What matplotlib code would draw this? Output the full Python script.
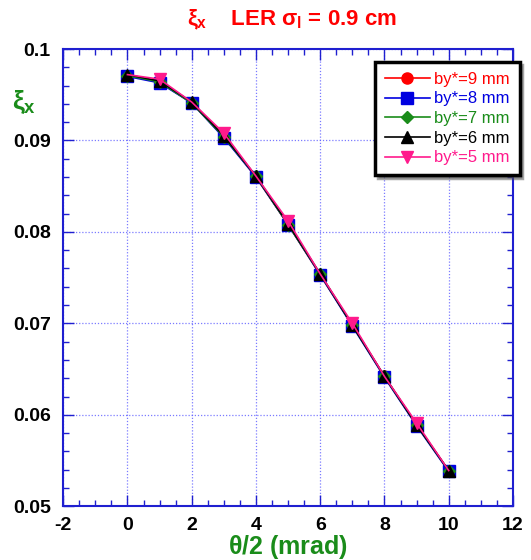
import numpy as np
import matplotlib.pyplot as plt
from matplotlib.ticker import MultipleLocator

dpi = 100

plt.rcParams['font.family'] = ['Liberation Sans', 'DejaVu Sans']
plt.rcParams['mathtext.fontset'] = 'custom'
plt.rcParams['mathtext.rm'] = 'Liberation Sans:bold'
plt.rcParams['mathtext.it'] = 'Liberation Sans:bold'
plt.rcParams['mathtext.bf'] = 'Liberation Sans:bold'
plt.rcParams['axes.unicode_minus'] = False

theta = [0, 1, 2, 3, 4, 5, 6, 7, 8, 9, 10]
xi_9 = [0.0971, 0.0964, 0.0941, 0.0904, 0.0860, 0.0808, 0.0753, 0.0698, 0.0642, 0.0589, 0.0539]
xi_8 = [0.0970, 0.0963, 0.0941, 0.0903, 0.0860, 0.0808, 0.0753, 0.0697, 0.0641, 0.0588, 0.0538]
xi_7 = [0.0971, 0.0964, 0.0941, 0.0904, 0.0861, 0.0808, 0.0754, 0.0698, 0.0642, 0.0589, 0.0539]
xi_6 = [0.0972, 0.0965, 0.0942, 0.0905, 0.0861, 0.0809, 0.0754, 0.0698, 0.0642, 0.0589, 0.0539]
xi_5 = [0.0972, 0.0967, 0.0942, 0.0908, 0.0861, 0.0812, 0.0754, 0.0700, 0.0642, 0.0591, 0.0539]

series = [
    (xi_9, 'red', 'o', 'by*=9 mm'),
    (xi_8, '#0000e0', 's', 'by*=8 mm'),
    (xi_7, '#1a8c1a', 'D', 'by*=7 mm'),
    (xi_6, 'black', '^', 'by*=6 mm'),
    (xi_5, '#ff1a8c', 'v', 'by*=5 mm'),
]

blue = '#1f1fd0'

fig = plt.figure(figsize=(531 / dpi, 560 / dpi), dpi=dpi)
ax = fig.add_axes([0.119, 0.096, 0.847, 0.8165])

for yy, col, mk, lab in series:
    # pink markers only stand out at the odd points
    every = slice(1, None, 2) if mk == 'v' else None
    ax.plot(theta, yy, color=col, marker=mk, ms=8 if mk != 'D' else 6.5, lw=1.2,
            label=lab, markevery=every)

ax.set_xlim(-2, 12)
ax.set_ylim(0.05, 0.1)
ax.xaxis.set_major_locator(MultipleLocator(2))
ax.xaxis.set_minor_locator(MultipleLocator(0.5))
ax.yaxis.set_major_locator(MultipleLocator(0.01))
ax.yaxis.set_minor_locator(MultipleLocator(0.002))
ax.yaxis.set_major_formatter(plt.FuncFormatter(lambda v, p: f'{v:g}'))

ax.grid(True, which='major', color='#5a5aff', ls=(0, (1, 1.5)), lw=0.9, alpha=0.8)
ax.tick_params(which='both', direction='in', top=True, right=True, colors=blue,
               labelcolor='black', labelsize=14)
ax.tick_params(axis='y', which='major', pad=9)
ax.tick_params(axis='x', which='major', pad=8)
ax.tick_params(which='major', length=8, width=1)
ax.tick_params(which='minor', length=4, width=1)
for lbl in ax.get_xticklabels() + ax.get_yticklabels():
    lbl.set_fontweight('bold')
for sp in ax.spines.values():
    sp.set_color(blue)
    sp.set_linewidth(1.5)

ax.set_xlabel(r'$\theta$/2 (mrad)', color='#1a8c1a', fontsize=18,
              fontweight='bold', labelpad=-1)
fig.text(0.022, 0.805, r'$\xi_x$', color='#1a8c1a', fontsize=19)
fig.text(0.55, 0.955, r'$\xi_x$    LER $\sigma_l$ = 0.9 cm', color='red',
         fontsize=16, fontweight='bold', ha='center')

leg = ax.legend(loc='upper right', bbox_to_anchor=(1.015, 0.972), fontsize=12,
                frameon=True, fancybox=False, shadow=True, handlelength=2.7,
                borderpad=0.6, labelspacing=0.28, handletextpad=0.25,
                borderaxespad=0)
leg.get_frame().set_edgecolor('black')
leg.get_frame().set_linewidth(2.5)
for txt, (_, col, _, _) in zip(leg.get_texts(), series):
    txt.set_color(col)

fig.savefig('out.png', dpi=dpi)
